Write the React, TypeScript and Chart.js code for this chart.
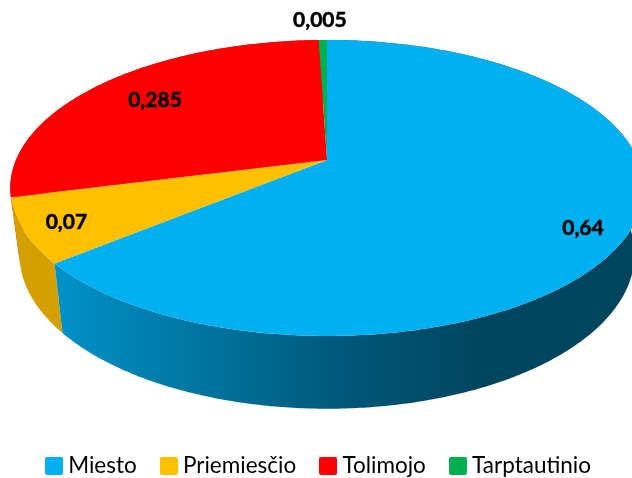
import { useEffect, useRef } from "react";
import { Chart, registerables } from "chart.js";

Chart.register(...registerables);

const categories = ["Miesto", "Priemiesčio", "Tolimojo", "Tarptautinio"];
const shares = [0.64, 0.07, 0.285, 0.005];
const shareLabels = ["0,64", "0,07", "0,285", "0,005"];
const sliceColors = ["#00B0F0", "#FFC000", "#FF0000", "#00B050"];
const wallColors = ["#007AA8", "#D4A000", "#D40000", "#008A40"];
const labelFractions = [0.86, 0.78, 0.68, 1.0];
const labelNudges = [[-4, 12], [-29, 8], [-15, -6], [-3, -20]];

const TOP = { x: 327, y: 160, a: 311, b: 142.7, k: 0.189 };
const BOTTOM = { x: 327, y: 225, a: 302, b: 149, k: 0.189 };
type Rim = typeof TOP;

function project(rim: Rim, angle: number, f = 1): [number, number] {
  const u = Math.cos(angle) * f;
  const v = Math.sin(angle) * f;
  const d = 1 - rim.k * v;
  return [rim.x + (rim.a * u) / d, rim.y + (rim.b * v) / d];
}

function rimPoints(rim: Rim, start: number, end: number) {
  const pts: [number, number][] = [];
  const n = Math.max(2, Math.ceil((end - start) / 0.01));
  for (let i = 0; i <= n; i++) pts.push(project(rim, start + ((end - start) * i) / n));
  return pts;
}

function legendSwatch(color: string) {
  const c = document.createElement("canvas");
  c.width = 18;
  c.height = 18;
  const x = c.getContext("2d")!;
  x.fillStyle = color;
  x.beginPath();
  x.roundRect(0, 0, 18, 18, 2);
  x.fill();
  return c;
}

const perspectivePie = {
  id: "perspectivePie",
  beforeDatasetsDraw(chart: any) {
    const { ctx } = chart;
    const arcs = chart.getDatasetMeta(0).data;
    ctx.save();
    for (let i = arcs.length - 1; i >= 0; i--) {
      const { startAngle, endAngle } = arcs[i];
      const upper = rimPoints(TOP, startAngle, endAngle);
      const lower = rimPoints(BOTTOM, startAngle, endAngle).reverse();
      ctx.beginPath();
      [...upper, ...lower].forEach(([x, y], j) => (j ? ctx.lineTo(x, y) : ctx.moveTo(x, y)));
      ctx.closePath();
      if (i === 0) {
        const g = ctx.createLinearGradient(60, 0, 480, 0);
        g.addColorStop(0, "#0090C8");
        g.addColorStop(1 / 3, "#0075A0");
        g.addColorStop(2 / 3, "#00587A");
        g.addColorStop(1, "#00455F");
        ctx.fillStyle = g;
      } else {
        ctx.fillStyle = wallColors[i];
      }
      ctx.fill();
    }
    for (let i = 0; i < arcs.length; i++) {
      const { startAngle, endAngle } = arcs[i];
      ctx.beginPath();
      ctx.moveTo(TOP.x, TOP.y);
      rimPoints(TOP, startAngle, endAngle).forEach(([x, y]) => ctx.lineTo(x, y));
      ctx.closePath();
      ctx.fillStyle = sliceColors[i];
      ctx.fill();
    }
    ctx.fillStyle = "#000";
    ctx.strokeStyle = "#000";
    ctx.lineWidth = 0.5;
    ctx.font = "bold 21px Lato";
    ctx.textAlign = "center";
    ctx.textBaseline = "middle";
    arcs.forEach((arc: any, i: number) => {
      const mid = (arc.startAngle + arc.endAngle) / 2;
      const [x, y] = project(TOP, mid, labelFractions[i]);
      ctx.fillText(shareLabels[i], x + labelNudges[i][0], y + labelNudges[i][1]);
      ctx.strokeText(shareLabels[i], x + labelNudges[i][0], y + labelNudges[i][1]);
    });
    ctx.restore();
    return false;
  },
};

export default function App() {
  const ref = useRef<HTMLCanvasElement>(null);
  useEffect(() => {
    document.body.style.margin = "0";
    const chart = new Chart(ref.current!, {
      type: "pie",
      data: {
        labels: categories,
        datasets: [{ data: shares, backgroundColor: sliceColors, borderWidth: 0 }],
      },
      options: {
        responsive: false,
        animation: false,
        layout: { padding: { bottom: -9, left: 10 } },
        plugins: {
          tooltip: { enabled: false },
          legend: {
            position: "bottom",
            labels: {
              usePointStyle: true,
              pointStyleWidth: 6,
              boxHeight: 18,
              padding: 29,
              color: "#000",
              font: { family: "Lato", size: 22.5 },
              generateLabels(c: any) {
                const items = (Chart.overrides as any).pie.plugins.legend.labels.generateLabels(c);
                return items.map((it: any, i: number) => ({
                  ...it,
                  pointStyle: legendSwatch(sliceColors[i]),
                }));
              },
            },
          },
        },
      },
      plugins: [perspectivePie],
    } as any);
    return () => chart.destroy();
  }, []);
  return <canvas ref={ref} width={632} height={478} style={{ display: "block" }} />;
}
